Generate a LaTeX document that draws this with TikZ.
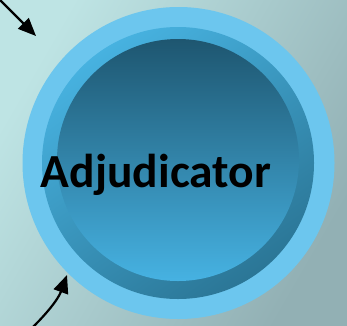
\documentclass[tikz,border=0pt]{standalone}
\usepackage{fontspec}
\setmainfont{Carlito}
\usepackage{xcolor}
\usepackage{tikz}
\usetikzlibrary{arrows.meta}

\definecolor{bglight}{HTML}{BEE4E4}
\definecolor{bgdark}{HTML}{92B0B4}
\definecolor{skyring}{HTML}{6CC6EE}
\definecolor{bevlight}{HTML}{47B2E0}
\definecolor{bevdark}{HTML}{2B7696}
\definecolor{disctop}{HTML}{1E5670}
\definecolor{discbot}{HTML}{46B2E2}

\begin{document}
\begin{tikzpicture}[x=1pt,y=1pt,inner sep=0pt,
  disk/.style={circle,draw=none,minimum size=#1},
  arr/.style={-{Triangle[length=18pt,width=15pt]},line width=2.2pt,black}]
\useasboundingbox (0,0) rectangle (347,325);
\shade[top color=bglight,bottom color=bgdark,shading angle=60] (0,0) rectangle (347,325);

\node[disk=312pt,fill=skyring] (outer) at (178.5,162) {};
\node[disk=272pt,top color=bevlight,bottom color=bevdark,shading angle=35] (bevel) at (178,162) {};
\node[disk=242pt,top color=disctop,bottom color=discbot] (disc) at (178,165) {};
\node[anchor=base,font=\fontsize{47.5}{57}\bfseries\selectfont] (label) at (156,138) {Adjudicator};

\coordinate (src1) at (-2,327);
\coordinate (dst1) at (36,289);
\coordinate (src2) at (33,-2);
\coordinate (dst2) at (67,50);
\path (src1) edge [arr] (dst1);
\path (src2) edge [arr,out=45,in=-110] (dst2);
\end{tikzpicture}
\end{document}
